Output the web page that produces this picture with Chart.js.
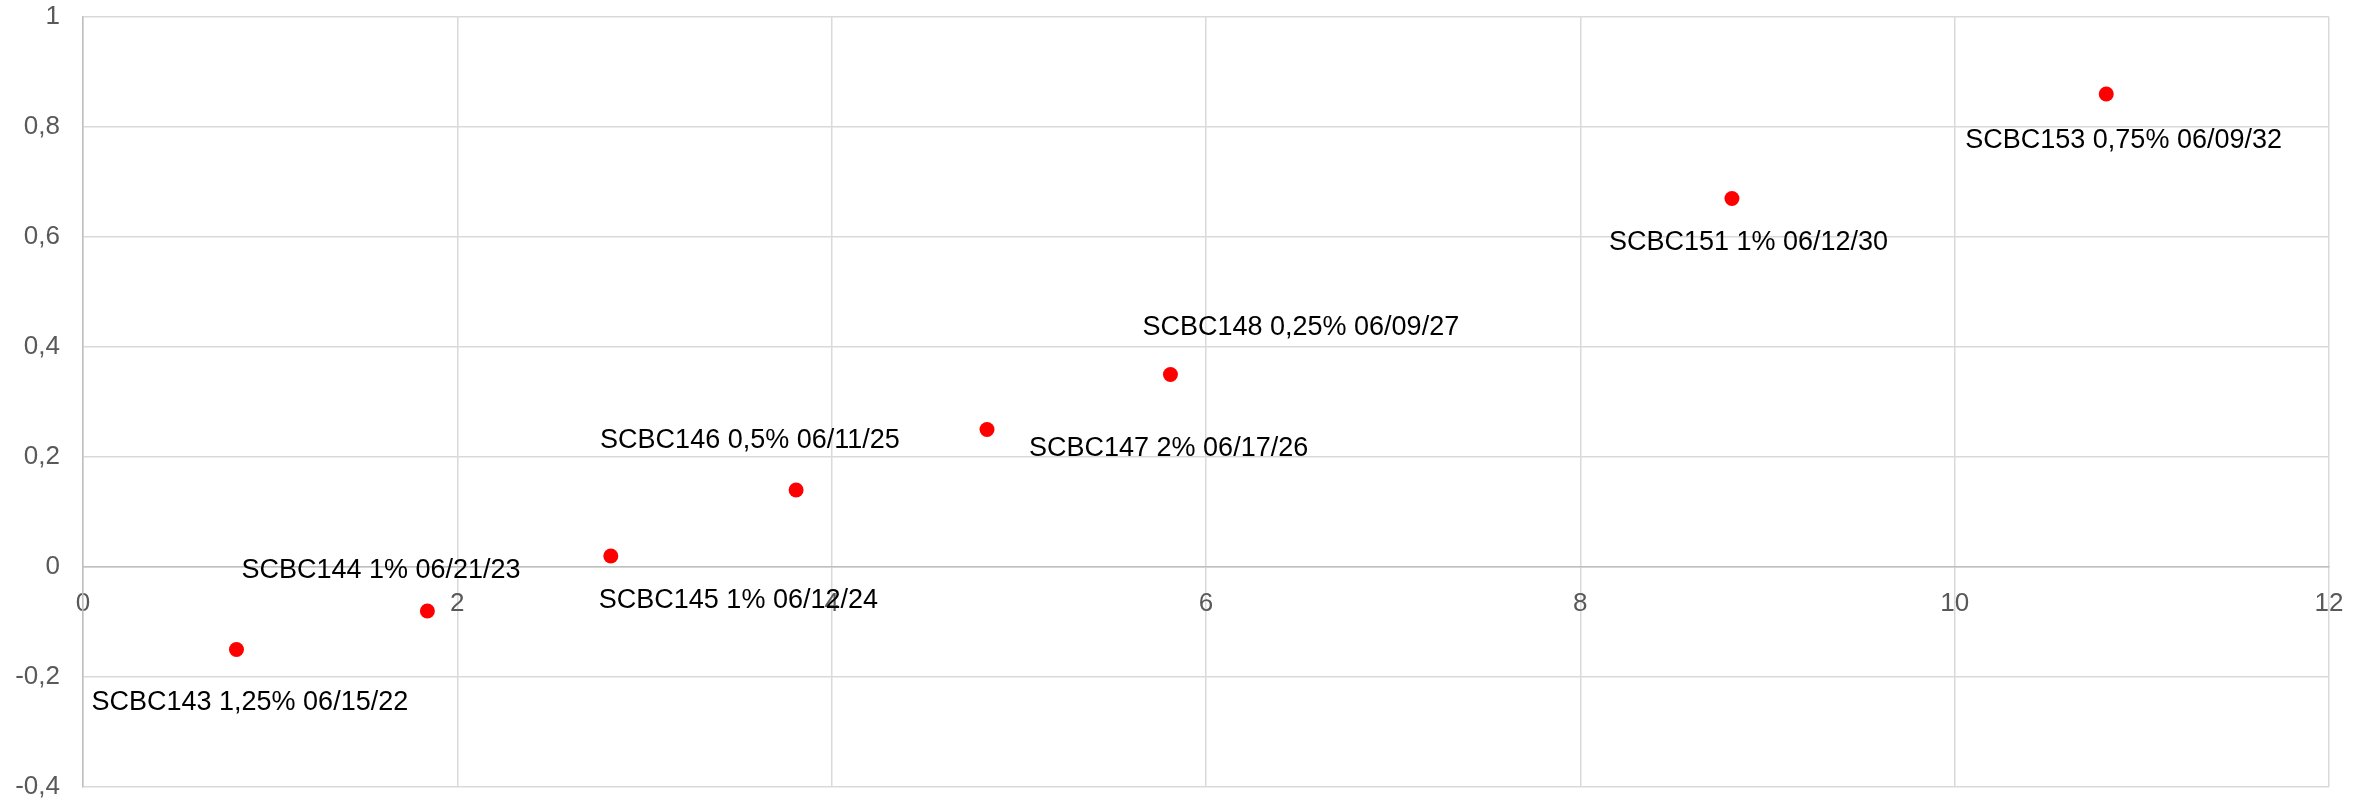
<!DOCTYPE html>
<html>
<head>
<meta charset="utf-8">
<script src="https://cdn.jsdelivr.net/npm/chart.js@4.4.1/dist/chart.umd.min.js"></script>
<style>
  html, body { margin: 0; padding: 0; background: #fff; }
  #wrap { width: 2369px; height: 803px; }
</style>
</head>
<body>
<div id="wrap"><canvas id="chart" width="2369" height="803"></canvas></div>
<script>
// bond labels, duration (x) and yield (y)
const bondNames = [
  'SCBC143 1,25% 06/15/22',
  'SCBC144 1% 06/21/23',
  'SCBC145 1% 06/12/24',
  'SCBC146 0,5% 06/11/25',
  'SCBC147 2% 06/17/26',
  'SCBC148 0,25% 06/09/27',
  'SCBC151 1% 06/12/30',
  'SCBC153 0,75% 06/09/32'
];
const durations = [0.82, 1.84, 2.82, 3.81, 4.83, 5.81, 8.81, 10.81];
const yields = [-0.15, -0.08, 0.02, 0.14, 0.25, 0.35, 0.67, 0.86];

// where each label sits relative to its point (left edge, vertical centre)
const labelOffsets = [
  [-145, 53], [-186, -40], [-12, 45], [-196, -49],
  [42, 19], [-28, -47], [-123, 44], [-141, 47]
];

const FONT = '"Liberation Sans", Arial, sans-serif';

function fmtNum(v) {
  const r = Math.round(v * 10) / 10;
  return (r === 0 ? '0' : String(r)).replace('.', ',');
}

const pointLabels = {
  id: 'pointLabels',
  afterDatasetsDraw(chart) {
    const ctx = chart.ctx;
    const meta = chart.getDatasetMeta(0);
    ctx.save();
    ctx.font = '27px ' + FONT;
    ctx.fillStyle = '#000';
    ctx.textAlign = 'left';
    ctx.textBaseline = 'middle';
    meta.data.forEach((pt, i) => {
      const [dx, dy] = labelOffsets[i];
      ctx.fillText(bondNames[i], pt.x + dx, pt.y + dy);
    });
    ctx.restore();
  }
};

const points = durations.map((x, i) => ({ x, y: yields[i] }));

new Chart(document.getElementById('chart'), {
  type: 'scatter',
  data: {
    datasets: [{
      data: points,
      backgroundColor: '#ff0000',
      borderColor: '#ff0000',
      pointRadius: 7.5,
      pointHoverRadius: 7.5,
      borderWidth: 0
    }]
  },
  options: {
    responsive: false,
    animation: false,
    devicePixelRatio: 1,
    layout: { padding: { left: 0, top: 17, right: 40, bottom: 16 } },
    plugins: {
      legend: { display: false },
      tooltip: { enabled: false }
    },
    scales: {
      x: {
        type: 'linear',
        min: 0,
        max: 12,
        position: { y: 0 },
        grid: { color: '#d9d9d9', lineWidth: 1.5, drawTicks: false },
        border: { color: '#bfbfbf', width: 1.5 },
        afterFit: (scale) => { scale.height = 0; },
        ticks: {
          stepSize: 2,
          padding: 21,
          color: '#595959',
          font: { family: FONT, size: 26 },
          callback: (v) => fmtNum(v)
        }
      },
      y: {
        type: 'linear',
        min: -0.4,
        max: 1,
        grid: { color: '#d9d9d9', lineWidth: 1.5, drawTicks: false },
        border: { color: '#bfbfbf', width: 1.5 },
        afterFit: (scale) => {
          scale.width = 83;
          scale.paddingTop = 0;
          scale.paddingBottom = 0;
        },
        ticks: {
          stepSize: 0.2,
          padding: 23,
          color: '#595959',
          font: { family: FONT, size: 26 },
          callback: (v) => fmtNum(v)
        }
      }
    }
  },
  plugins: [pointLabels]
});
</script>
</body>
</html>
